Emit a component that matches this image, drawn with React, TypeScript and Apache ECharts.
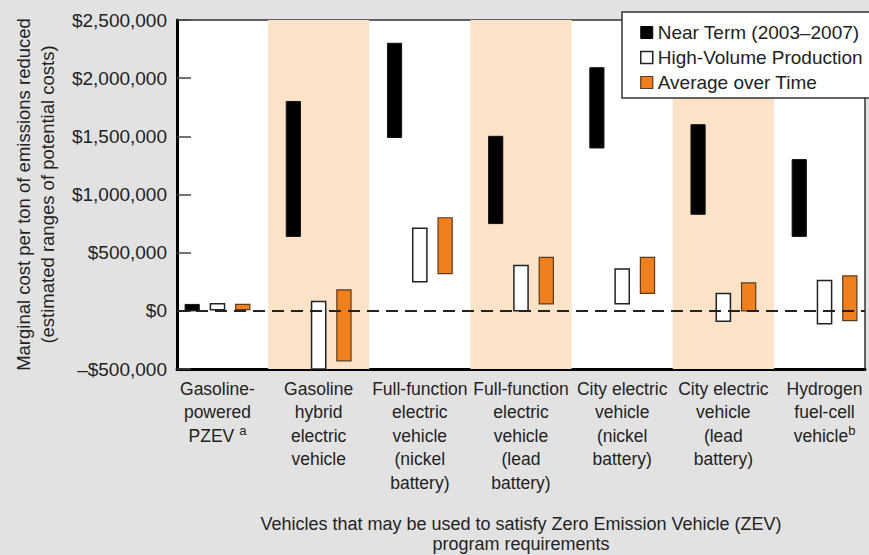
import React, { useEffect, useRef } from "react";
import * as echarts from "echarts";

const categories = [
  "Gasoline-\npowered\nPZEV {sup|a}",
  "Gasoline\nhybrid\nelectric\nvehicle",
  "Full-function\nelectric\nvehicle\n(nickel\nbattery)",
  "Full-function\nelectric\nvehicle\n(lead\nbattery)",
  "City electric\nvehicle\n(nickel\nbattery)",
  "City electric\nvehicle\n(lead\nbattery)",
  "Hydrogen\nfuel-cell\nvehicle{sup|b}",
];

const nearTermLow = [0, 640000, 1490000, 750000, 1400000, 830000, 640000];
const nearTermHigh = [55000, 1800000, 2300000, 1500000, 2090000, 1600000, 1300000];
const highVolLow = [10000, -500000, 250000, 0, 60000, -90000, -110000];
const highVolHigh = [60000, 80000, 710000, 390000, 360000, 150000, 260000];
const avgLow = [10000, -430000, 320000, 60000, 150000, 0, -85000];
const avgHigh = [55000, 180000, 800000, 460000, 460000, 240000, 300000];

const shadedColumns = [1, 3, 5];
const yTicks = { min: -500000, max: 2500000, interval: 500000 };

const FONT = "'Liberation Sans', Arial, Helvetica, sans-serif";
const TEXT = "#222";
const ORANGE = "#f07f1e";
const BAND = "#fce3c8";

function fmtMoney(v: number) {
  const abs = Math.abs(v).toLocaleString("en-US");
  return (v < 0 ? "\u2013$" : "$") + abs;
}

export default function App() {
  const ref = useRef<HTMLDivElement>(null);

  useEffect(() => {
    if (!ref.current) return;
    const chart = echarts.init(ref.current, undefined, { renderer: "svg" });

    const rangeSeries = (
      name: string,
      lows: number[],
      highs: number[],
      offset: number,
      fill: string,
      stroke: string,
      lw: number,
      extra: any = {}
    ) => ({
      type: "custom",
      name,
      data: lows.map((l, i) => [i + offset, l, highs[i]]),
      encode: { x: 0, y: [1, 2] },
      z: 3,
      renderItem: (params: any, api: any) => {
        const x = api.value(0);
        const top = api.coord([x, api.value(2)]);
        const bottom = api.coord([x, api.value(1)]);
        const w = api.size([0.14, 0])[0];
        return {
          type: "rect",
          shape: { x: top[0] - w / 2, y: top[1], width: w, height: bottom[1] - top[1] },
          style: { fill, stroke, lineWidth: lw },
        };
      },
      ...extra,
    });

    chart.setOption({
      animation: false,
      backgroundColor: "#e2e2e2",
      textStyle: { fontFamily: FONT, color: TEXT },
      grid: {
        left: 177,
        top: 20,
        right: 4,
        bottom: 186,
        containLabel: false,
        outerBoundsMode: "none",
        show: true,
        backgroundColor: "#ffffff",
        borderColor: "#333",
        borderWidth: 1.5,
      },
      legend: {
        left: 622,
        top: 12,
        orient: "vertical",
        padding: [11, 60, 6, 18],
        itemGap: 6,
        itemWidth: 12,
        itemHeight: 12,
        icon: "rect",
        backgroundColor: "#ffffff",
        borderColor: "#333",
        borderWidth: 1.5,
        textStyle: { fontFamily: FONT, fontSize: 19, color: TEXT, lineHeight: 18 },
        data: [
          { name: "Near Term (2003\u20132007)", itemStyle: { color: "#000", borderColor: "#000", borderWidth: 1 } },
          { name: "High-Volume Production", itemStyle: { color: "#fff", borderColor: "#222", borderWidth: 1.5 } },
          { name: "Average over Time", itemStyle: { color: ORANGE, borderColor: "#5b3a1e", borderWidth: 1.2 } },
        ],
      },
      xAxis: {
        type: "value",
        min: -0.4,
        max: 6.4,
        name: "Vehicles that may be used to satisfy Zero Emission Vehicle (ZEV)\nprogram requirements",
        nameLocation: "middle",
        nameGap: 145,
        nameTextStyle: { fontFamily: FONT, fontSize: 18, color: TEXT, lineHeight: 20 },
        axisLine: { show: true, onZero: false, lineStyle: { color: "#000", width: 3 } },
        axisTick: { show: false },
        splitLine: { show: false },
        axisLabel: {
          customValues: [0, 1, 2, 3, 4, 5, 6],
          formatter: (v: number) => categories[Math.round(v)],
          fontFamily: FONT,
          fontSize: 17.5,
          lineHeight: 23.5,
          color: TEXT,
          margin: 8,
          rich: {
            sup: { fontSize: 13, verticalAlign: "top", lineHeight: 14, padding: [0, 0, 8, 0], fontFamily: FONT, color: TEXT },
          },
        },
      },
      yAxis: {
        type: "value",
        min: yTicks.min,
        max: yTicks.max,
        interval: yTicks.interval,
        name: "Marginal cost per ton of emissions reduced\n(estimated ranges of potential costs)",
        nameLocation: "middle",
        nameGap: 118,
        nameTextStyle: { fontFamily: FONT, fontSize: 18.5, color: TEXT, lineHeight: 24 },
        axisLine: { show: true, onZero: false, lineStyle: { color: "#000", width: 3 } },
        axisTick: { show: true, inside: true, length: 14, lineStyle: { color: "#444", width: 1.5 } },
        splitLine: { show: false },
        axisLabel: {
          formatter: fmtMoney,
          fontFamily: FONT,
          fontSize: 19,
          color: TEXT,
          margin: 10,
        },
      },
      series: [
        {
          type: "custom",
          name: "bands",
          silent: true,
          z: 1,
          data: shadedColumns.map((c) => [c]),
          encode: { x: 0 },
          renderItem: (params: any, api: any) => {
            const c = api.value(0);
            const a = api.coord([c - 0.5, yTicks.max]);
            const b = api.coord([c + 0.5, yTicks.min]);
            return {
              type: "rect",
              shape: { x: a[0], y: a[1], width: b[0] - a[0], height: b[1] - a[1] },
              style: { fill: BAND },
            };
          },
        },
        rangeSeries("Near Term (2003\u20132007)", nearTermLow, nearTermHigh, -0.25, "#000", "#111", 1),
        rangeSeries("High-Volume Production", highVolLow, highVolHigh, 0, "#fff", "#222", 1.5),
        rangeSeries("Average over Time", avgLow, avgHigh, 0.25, ORANGE, "#5b3a1e", 1.2, {
          markLine: {
            silent: true,
            symbol: "none",
            label: { show: false },
            lineStyle: { color: "#222", type: [12, 7], width: 2 },
            data: [{ yAxis: 0 }],
          },
        }),
      ],
    });

    return () => chart.dispose();
  }, []);

  return (
    <div
      ref={ref}
      style={{ position: "absolute", left: 0, top: 0, width: 869, height: 555 }}
    />
  );
}
